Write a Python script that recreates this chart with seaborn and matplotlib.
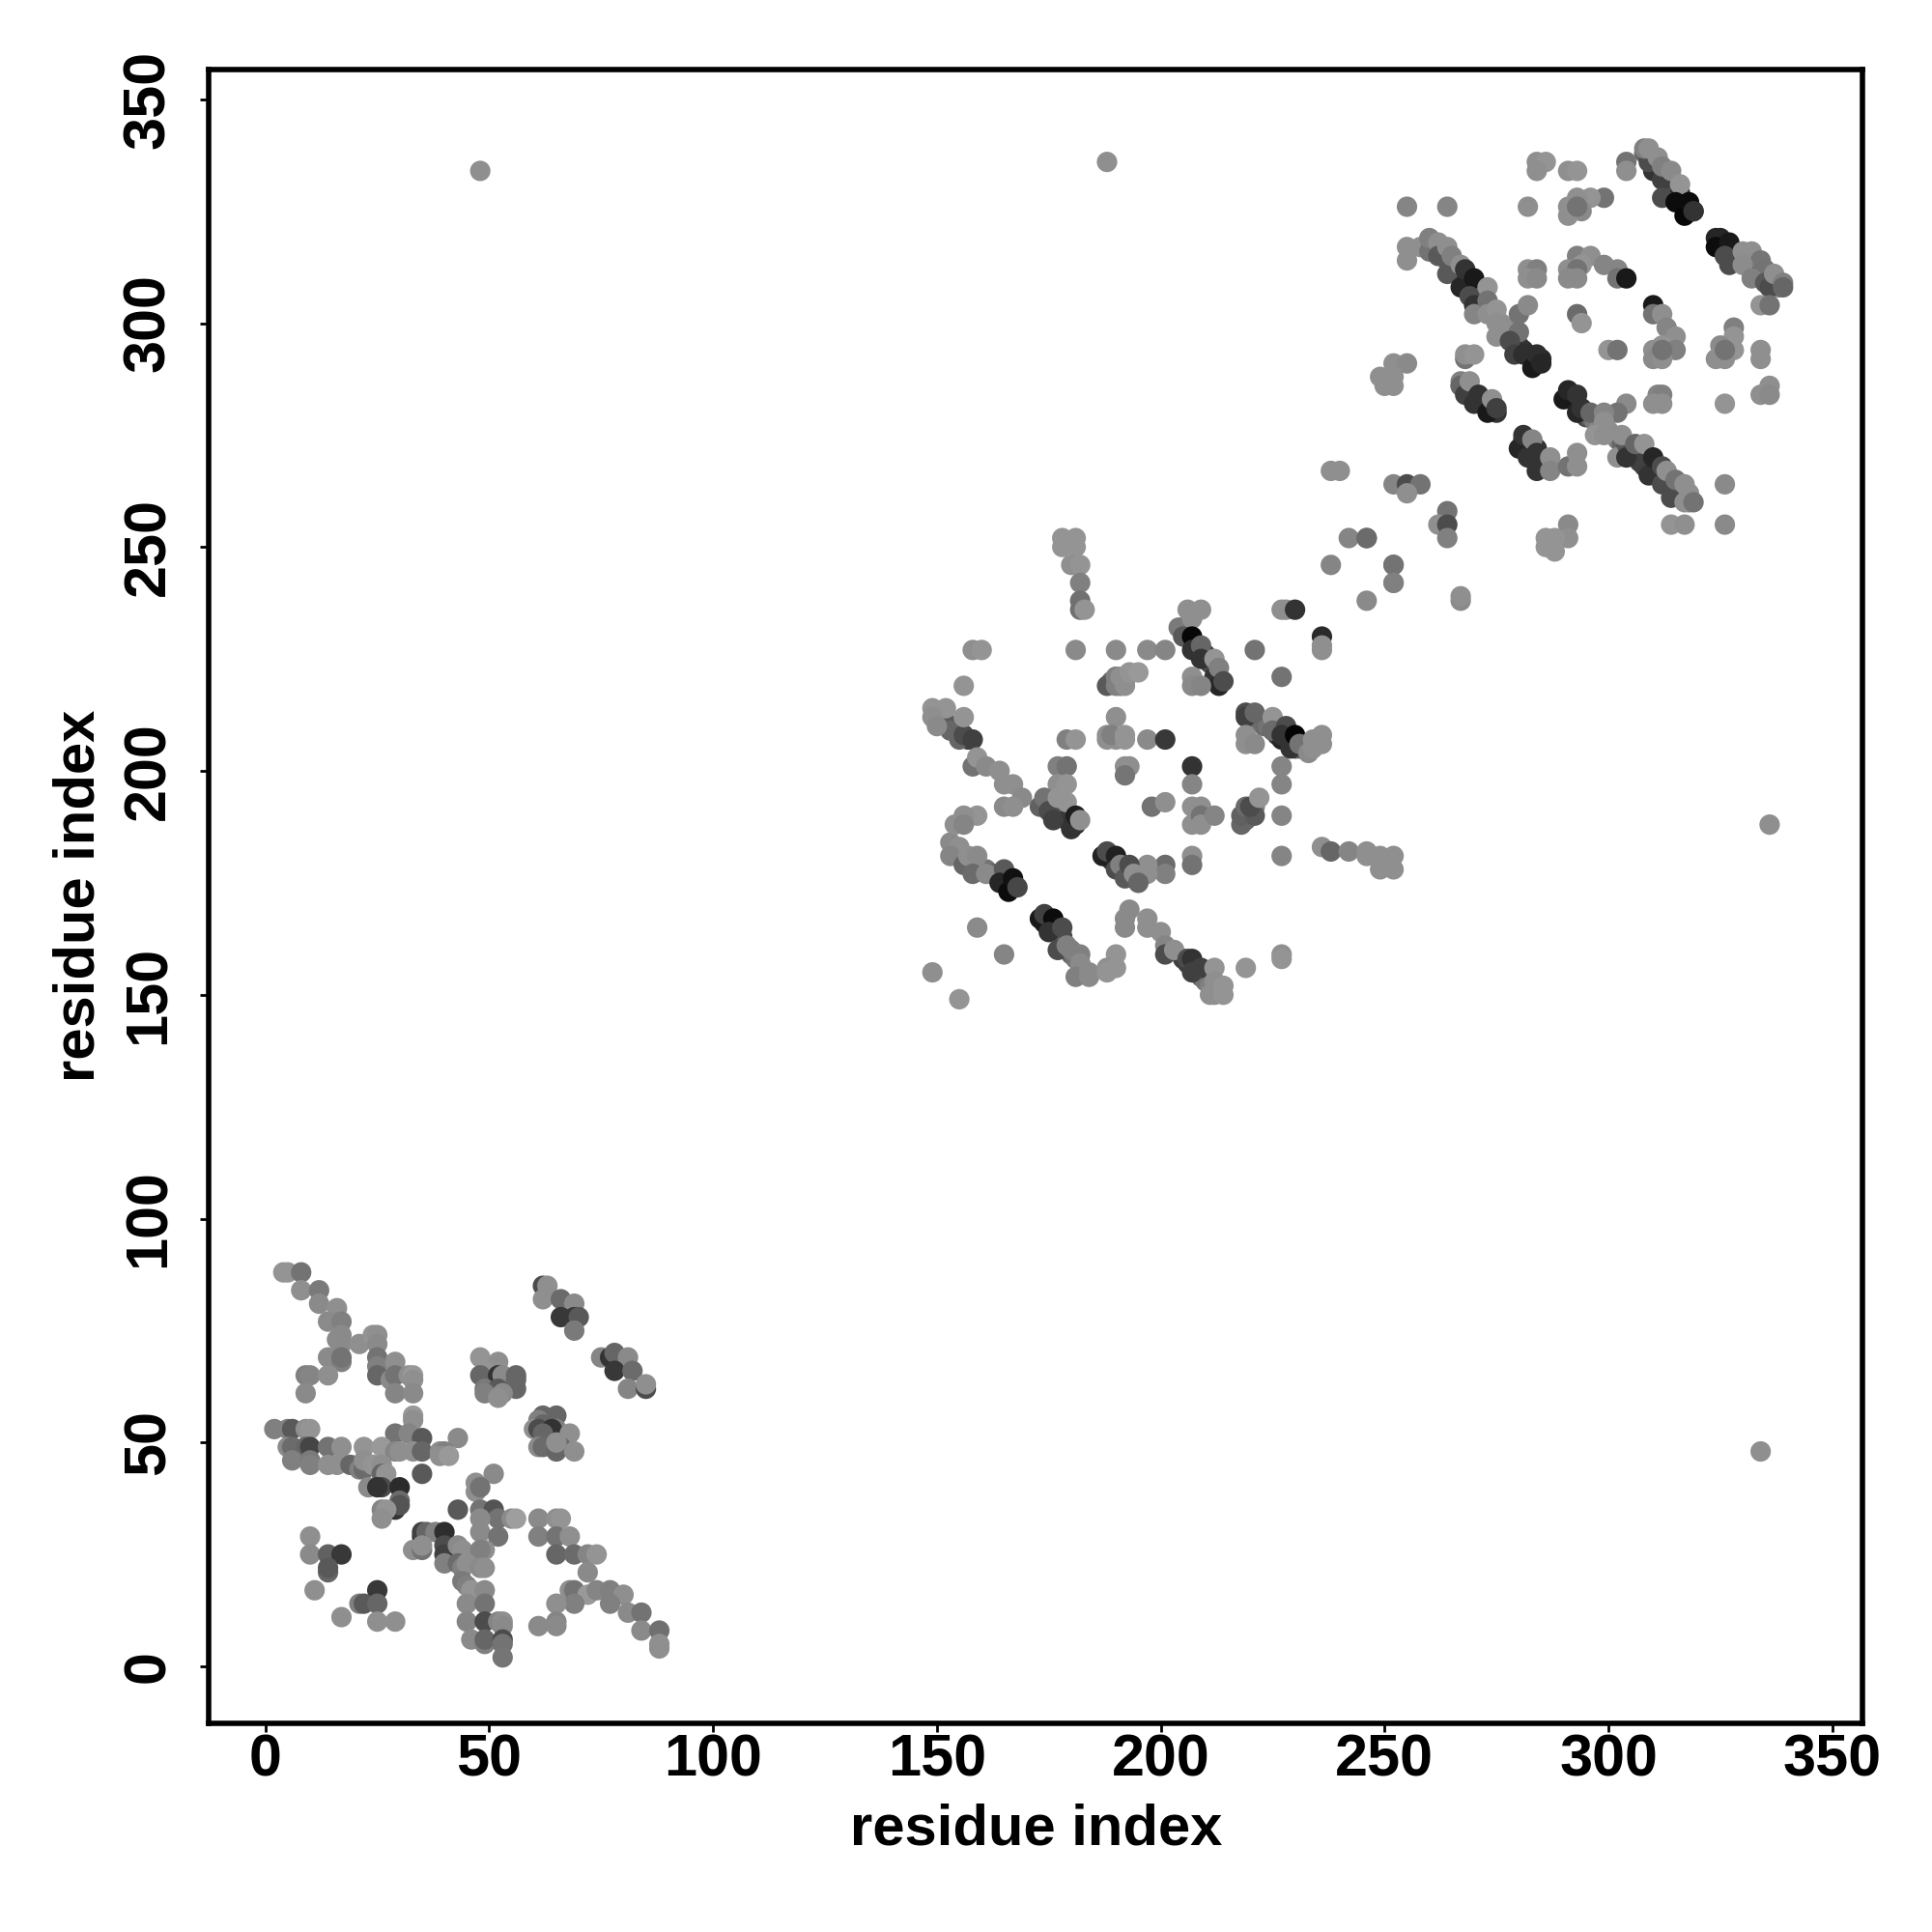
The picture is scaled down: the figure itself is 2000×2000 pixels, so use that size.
import matplotlib
matplotlib.use("Agg")
import matplotlib.pyplot as plt
import pandas as pd
import seaborn as sns

# contact points: (residue x, residue y, grey level)
outliers = [(48, 334, .56), (334, 48, .56), (188, 336, .56), (336, 188, .56)]

# dense anti-diagonal bands, drawn first so the single contacts sit on top
bands_b = [
    (150, 213, .5), (151, 212, .45), (152, 211, .4), (153, 210, .35), (154, 209, .3), (155, 209, .3), (156, 208, .28), (157, 207, .25),
    (174, 193, .4), (175, 192, .35), (176, 191, .3), (177, 191, .35), (178, 190, .3), (179, 189, .22), (180, 188, .2), (181, 188, .2),
    (188, 181, .2), (189, 180, .2), (190, 180, .3), (191, 179, .3), (192, 178, .35), (193, 177, .4), (194, 176, .42), (195, 176, .45),
    (154, 183, .48), (155, 182, .48), (156, 181, .45), (157, 180, .42), (158, 180, .45), (159, 179, .42), (160, 178, .45), (161, 178, .45),
    (162, 177, .42), (163, 177, .4), (164, 176, .25), (165, 175, .2), (166, 175, .12), (167, 174, .1),
    (174, 166, .1), (175, 165, .15), (176, 165, .2), (177, 164, .25), (178, 163, .3), (178, 161, .35), (179, 160, .38), (180, 159, .4),
    (181, 158, .45), (182, 157, .48), (183, 155, .5),
    (205, 158, .25), (206, 157, .25), (207, 156, .2), (208, 155, .25), (209, 154, .4), (210, 153, .45), (211, 152, .5), (212, 151, .54), (213, 151, .54),
    (205, 232, .35), (206, 231, .3), (207, 229, .15), (208, 228, .15), (209, 227, .2), (210, 226, .22), (211, 224, .3), (212, 223, .3), (213, 221, .25),
    (220, 212, .4), (221, 212, .42), (222, 211, .45), (223, 210, .42), (224, 210, .45), (225, 209, .35), (226, 208, .25), (227, 207, .15), (228, 207, .15),
    (229, 206, .2), (230, 205, .25), (231, 205, .35),
    (219, 190, .35), (220, 191, .4), (219, 189, .4), (220, 190, .45), (221, 192, .5),
    (189, 220, .42), (190, 221, .45), (191, 220, .48), (192, 221, .52), (191, 219, .5), (192, 220, .52),
]

bands_c = [
    (308, 338, .4), (309, 337, .35), (310, 336, .3), (311, 335, .3), (312, 334, .28), (313, 333, .3), (314, 332, .3), (315, 330, .3),
    (316, 329, .2), (317, 327, .1), (318, 326, .1), (319, 325, .12),
    (325, 318, .12), (326, 317, .15), (327, 316, .2), (328, 315, .3), (329, 314, .35), (330, 314, .4), (331, 313, .35), (332, 312, .3),
    (333, 312, .35), (334, 311, .35), (335, 310, .35), (336, 310, .4), (337, 309, .45), (338, 308, .5),
    (260, 318, .5), (261, 317, .48), (262, 316, .42), (263, 315, .4), (264, 314, .38), (265, 314, .4), (266, 313, .35), (267, 312, .3), (268, 310, .2),
    (269, 309, .2), (270, 308, .2), (271, 307, .3), (272, 306, .35), (273, 304, .45), (274, 302, .52), (275, 301, .55), (276, 300, .56), (277, 299, .56),
    (278, 297, .45), (279, 296, .35), (280, 295, .25), (281, 294, .2), (282, 293, .18), (283, 292, .15), (284, 291, .15), (285, 292, .15),
    (291, 284, .15), (292, 283, .15), (293, 282, .15), (294, 280, .2), (295, 279, .3), (296, 279, .4), (297, 278, .48), (298, 277, .52), (299, 276, .56),
    (300, 276, .56), (301, 275, .55), (302, 274, .5), (303, 273, .4), (304, 272, .35), (305, 271, .3), (306, 270, .25), (307, 269, .25), (308, 270, .25),
    (309, 268, .22), (310, 267, .25), (311, 266, .28), (312, 265, .3), (313, 264, .35), (314, 263, .4), (315, 262, .45), (316, 262, .5), (317, 261, .52), (318, 260, .54),
    (267, 286, .4), (268, 285, .35), (269, 285, .3), (270, 284, .25), (271, 283, .2), (272, 282, .15), (273, 282, .15), (274, 281, .15), (275, 280, .2),
    (281, 274, .2), (282, 273, .25), (283, 272, .25), (284, 272, .2), (285, 270, .3), (286, 269, .4), (287, 268, .45),
]

# first domain, lower left
domain_a = [
    (4, 88, .58), (5, 88, .58), (8, 88, .45), (8, 84, .56), (12, 84, .48), (12, 81, .54), (16, 80, .56),
    (14, 77, .54), (17, 77, .5), (17, 74, .54), (16, 73, .54), (17, 72, .54), (21, 72, .56), (24, 74, .58),
    (25, 74, .56), (25, 72, .54), (14, 69, .54), (17, 68, .5), (17, 69, .45), (25, 69, .45), (25, 67, .5),
    (25, 65, .4), (28, 64, .54), (29, 68, .56), (29, 65, .45), (32, 65, .56), (33, 65, .6), (33, 64, .56),
    (29, 61, .52), (33, 61, .54), (9, 65, .5), (10, 65, .52), (14, 65, .56), (9, 61, .54),
    (5, 53, .5), (2, 53, .5), (6, 53, .35), (9, 53, .56), (10, 53, .58), (33, 56, .6), (33, 55, .56),
    (29, 52, .45), (32, 52, .52), (35, 51, .35), (43, 51, .54),
    (5, 49, .54), (6, 49, .42), (9, 49, .4), (10, 49, .27), (14, 49, .45), (17, 49, .56), (22, 49, .58),
    (26, 49, .6), (29, 48, .52), (30, 48, .56), (33, 48, .56), (35, 48, .4), (39, 48, .56), (40, 48, .5),
    (39, 47, .56), (41, 47, .6), (6, 46, .5), (10, 46, .48), (10, 45, .5), (14, 45, .56), (16, 45, .56),
    (19, 45, .4), (21, 44, .5), (22, 44, .42), (22, 46, .56), (24, 45, .58), (26, 45, .56), (26, 43, .4),
    (27, 43, .58), (23, 40, .54), (26, 40, .3), (25, 40, .2), (30, 40, .17), (35, 43, .35),
    (51, 43, .54), (47, 41, .56), (47, 39, .56), (48, 40, .45), (43, 35, .35), (48, 35, .45), (51, 35, .33),
    (52, 33, .45), (48, 33, .54), (55, 33, .54), (56, 33, .62), (48, 30, .54), (52, 29, .45),
    (30, 37, .42), (29, 35, .2), (30, 36, .33), (26, 35, .52), (27, 35, .58), (26, 33, .56),
    (61, 33, .54), (65, 33, .56), (66, 33, .58), (61, 29, .5), (65, 29, .45), (68, 29, .56), (65, 25, .4),
    (69, 25, .42), (72, 25, .52), (74, 25, .58), (72, 21, .54), (68, 17, .56), (69, 17, .45), (72, 16, .6),
    (74, 17, .52), (77, 17, .5), (80, 16, .56), (77, 14, .5), (69, 14, .5), (65, 14, .56), (65, 10, .52),
    (65, 9, .54), (61, 9, .54), (81, 12, .54), (84, 12, .45), (84, 8, .54), (88, 8, .44), (88, 5, .56), (88, 4, .56),
    (10, 29, .56), (10, 25, .54), (14, 25, .38), (17, 25, .22), (14, 21, .4), (14, 22, .35), (11, 17, .56),
    (25, 17, .22), (21, 14, .5), (22, 14, .35), (25, 14, .4), (17, 11, .56), (25, 10, .56), (29, 10, .56),
    (35, 29, .2), (35, 30, .25), (36, 30, .4), (38, 30, .5), (40, 30, .18), (33, 26, .56), (35, 26, .45),
    (35, 27, .56), (40, 27, .3), (40, 25, .25), (40, 23, .5), (43, 27, .54), (44, 26, .56), (49, 26, .56),
    (48, 26, .5), (43, 23, .42), (44, 22, .5), (45, 23, .56), (48, 22, .54), (49, 22, .56), (44, 19, .48),
    (45, 18, .5), (46, 17, .58), (49, 17, .54), (45, 14, .54), (49, 14, .45), (45, 10, .52), (49, 10, .3),
    (52, 10, .52), (53, 10, .56), (53, 9, .54), (46, 6, .54), (49, 5, .5), (49, 6, .4), (53, 6, .3), (53, 5, .45), (53, 2, .46),
    (48, 69, .58), (52, 68, .56), (49, 66, .58), (48, 65, .4), (52, 65, .2), (53, 65, .54), (56, 65, .4),
    (56, 64, .4), (49, 62, .48), (52, 62, .35), (56, 62, .4), (49, 61, .5), (53, 61, .54), (52, 60, .56),
    (62, 85, .3), (63, 85, .56), (62, 82, .56), (66, 82, .42), (69, 81, .54), (66, 78, .22), (69, 78, .22),
    (70, 78, .35), (69, 75, .48), (75, 69, .52), (77, 69, .2), (78, 70, .4), (81, 69, .54), (78, 66, .22),
    (82, 66, .42), (81, 62, .52), (85, 62, .3), (85, 63, .56),
    (62, 56, .4), (65, 56, .4), (61, 55, .5), (62, 54, .4), (60, 53, .56), (61, 53, .3), (65, 53, .5),
    (64, 53, .2), (62, 52, .4), (68, 52, .56), (61, 49, .54), (62, 49, .42), (66, 49, .42), (65, 48, .4),
    (65, 50, .56), (69, 48, .56),
]

# second domain, centre
domain_b = [
    (178, 252, .58), (181, 252, .58), (178, 250, .58), (181, 250, .58), (180, 246, .56), (182, 246, .58),
    (182, 242, .5), (182, 238, .44), (182, 236, .44), (183, 236, .58), (158, 227, .56), (160, 227, .58),
    (181, 227, .54), (190, 227, .54), (197, 227, .54), (201, 227, .52), (221, 227, .45),
    (227, 236, .56), (228, 236, .56), (230, 236, .2), (236, 230, .17), (236, 228, .56), (236, 227, .56),
    (242, 252, .52), (246, 252, .45), (238, 246, .52), (252, 246, .45), (252, 242, .52), (246, 238, .54),
    (227, 221, .45), (156, 219, .58),
    (155, 207, .4), (153, 209, .4), (156, 208, .3), (158, 207, .25), (149, 214, .58), (152, 214, .58), (149, 212, .56),
    (150, 210, .54), (156, 212, .58), (158, 201, .45), (159, 203, .58), (161, 201, .54), (164, 200, .56),
    (165, 197, .56), (167, 197, .56), (169, 194, .54), (165, 192, .54), (167, 192, .56),
    (188, 219, .35), (190, 220, .4), (190, 221, .5), (190, 219, .5), (191, 221, .56), (192, 219, .56), (193, 222, .58),
    (195, 222, .6), (190, 212, .56), (188, 208, .56), (188, 207, .56), (190, 207, .56), (189, 208, .5), (192, 208, .58),
    (192, 207, .58), (197, 207, .54), (201, 207, .22), (179, 207, .5), (181, 207, .58),
    (177, 201, .5), (179, 201, .45), (177, 197, .56), (179, 197, .58), (192, 201, .56), (193, 201, .56), (192, 199, .46),
    (173, 192, .38), (174, 194, .45), (175, 191, .3), (176, 189, .25), (177, 194, .58), (179, 193, .58),
    (180, 187, .2), (181, 190, .12), (182, 189, .56),
    (207, 201, .2), (207, 197, .52), (198, 192, .45), (201, 193, .56), (207, 192, .56), (209, 192, .56), (207, 188, .56),
    (209, 190, .45), (209, 188, .56), (212, 190, .52), (218, 188, .4), (218, 190, .38), (219, 192, .42), (221, 190, .35),
    (220, 192, .3), (222, 194, .58), (227, 201, .52), (227, 197, .52), (227, 190, .52), (227, 181, .52),
    (236, 183, .56), (238, 182, .4), (242, 182, .52), (246, 182, .56), (246, 181, .56), (249, 181, .56), (252, 181, .56),
    (249, 178, .56), (252, 178, .56), (207, 181, .56), (207, 179, .45), (201, 179, .42), (201, 177, .5), (197, 179, .56),
    (197, 177, .56),
    (187, 181, .13), (188, 182, .3), (190, 181, .13), (190, 178, .3), (191, 179, .5), (192, 176, .35), (193, 179, .3),
    (194, 177, .56), (195, 175, .4), (153, 184, .54), (155, 183, .56), (153, 181, .52), (156, 179, .4), (157, 181, .56),
    (159, 181, .54), (158, 177, .42), (161, 177, .54), (165, 178, .35), (164, 175, .15), (166, 173, .05), (167, 176, .07), (168, 174, .28),
    (159, 190, .58), (156, 190, .56), (154, 188, .56), (156, 188, .52), (159, 165, .54), (165, 159, .52),
    (149, 155, .56), (155, 149, .58),
    (173, 167, .1), (174, 168, .25), (176, 167, .05), (175, 164, .2), (178, 165, .3), (177, 160, .3), (179, 161, .5), (180, 160, .5),
    (182, 159, .5), (182, 157, .54), (181, 154, .5), (184, 155, .54), (184, 154, .54), (190, 159, .58), (188, 156, .56),
    (190, 156, .58), (188, 155, .58),
    (193, 169, .54), (192, 167, .54), (192, 165, .54), (197, 167, .56), (197, 165, .56), (200, 164, .56), (201, 161, .52),
    (201, 159, .3), (203, 160, .56), (206, 158, .3), (207, 158, .2), (207, 155, .25), (209, 156, .25), (212, 156, .58),
    (212, 153, .56), (211, 150, .56), (212, 150, .56), (214, 152, .58), (214, 150, .58), (219, 156, .58), (227, 159, .56), (227, 158, .58),
    (204, 232, .48), (206, 236, .56), (209, 236, .56), (207, 234, .56), (205, 230, .35), (207, 230, .03), (207, 227, .2), (209, 228, .4),
    (209, 225, .2), (212, 225, .58), (212, 221, .2), (213, 223, .5), (213, 219, .15), (214, 220, .3), (207, 221, .56),
    (207, 219, .54), (209, 219, .52), (219, 213, .3), (219, 212, .25), (221, 213, .4), (219, 208, .56), (219, 206, .56),
    (221, 206, .54), (225, 212, .58), (225, 209, .42), (228, 210, .3), (227, 208, .2), (229, 205, .2), (230, 208, .02),
    (231, 206, .45), (233, 204, .54), (234, 207, .56), (236, 208, .56), (234, 205, .56), (236, 206, .56),
]

# third domain, upper right
domain_c = [
    (255, 326, .52), (264, 326, .52), (282, 326, .56), (284, 336, .56), (286, 336, .58), (284, 334, .56), (291, 334, .56), (293, 334, .58),
    (304, 336, .45), (304, 334, .56), (310, 334, .2), (309, 336, .3), (312, 332, .25), (312, 328, .3), (308, 339, .5), (309, 339, .56),
    (311, 337, .56), (312, 335, .5), (314, 334, .54), (316, 331, .58), (315, 327, .05), (317, 324, .03), (318, 327, .05), (319, 325, .2),
    (299, 328, .45), (296, 328, .58), (293, 328, .56), (291, 326, .56), (294, 325, .54), (291, 324, .56), (293, 326, .45),
    (324, 319, .15), (325, 319, .15), (324, 317, .05), (327, 318, .1), (326, 315, .3), (327, 313, .3), (330, 316, .56), (332, 316, .56), (334, 314, .46),
    (330, 313, .55), (335, 312, .45), (332, 310, .5), (335, 309, .35), (336, 308, .3), (337, 311, .56), (339, 309, .5), (339, 308, .4),
    (334, 304, .58), (336, 304, .45),
    (255, 317, .56), (255, 314, .56), (258, 317, .56), (260, 316, .45), (260, 319, .5), (262, 318, .56), (262, 315, .35), (264, 317, .56),
    (264, 311, .35), (265, 315, .5), (267, 313, .56), (267, 308, .15), (268, 312, .2), (270, 310, .1), (269, 306, .3), (270, 304, .2), (270, 302, .52),
    (273, 308, .58), (273, 305, .45), (273, 302, .56), (275, 303, .58), (275, 300, .56), (275, 297, .56), (278, 298, .56), (280, 302, .45),
    (282, 304, .54), (280, 298, .45), (278, 296, .3), (279, 293, .25), (281, 293, .18), (283, 290, .1), (284, 293, .18), (285, 291, .15),
    (282, 312, .56), (284, 312, .5), (282, 310, .56), (284, 310, .54), (293, 315, .5), (296, 315, .56), (291, 312, .56), (294, 313, .58), (293, 312, .45),
    (291, 310, .54), (293, 310, .54), (299, 313, .52), (302, 312, .52), (302, 310, .45), (304, 310, .1),
    (310, 304, .1), (310, 302, .45), (312, 302, .56), (313, 299, .52), (315, 297, .56), (312, 295, .58), (315, 294, .5), (310, 294, .56),
    (310, 292, .54), (312, 292, .56), (312, 294, .45), (293, 302, .42), (294, 300, .58), (300, 294, .58), (302, 294, .45),
    (328, 299, .5), (328, 297, .58), (325, 295, .54), (328, 294, .58), (325, 293, .56), (324, 292, .56), (326, 292, .56), (326, 294, .45),
    (334, 294, .56), (334, 292, .56), (336, 286, .56), (334, 284, .56), (336, 284, .54), (326, 282, .58),
    (311, 284, .52), (312, 284, .5), (310, 282, .56), (312, 282, .56), (304, 282, .54), (302, 280, .45),
    (268, 292, .45), (268, 293, .56), (270, 293, .58), (252, 291, .56), (255, 291, .54), (249, 288, .56), (252, 288, .56), (250, 286, .56), (252, 286, .56),
    (267, 287, .5), (267, 286, .4), (268, 284, .25), (269, 287, .56), (270, 282, .2), (271, 284, .2), (273, 280, .1), (274, 283, .56), (275, 281, .25),
    (290, 283, .1), (291, 285, .15), (293, 284, .2), (293, 280, .15), (294, 281, .2), (296, 280, .4), (299, 280, .52), (299, 278, .56), (297, 275, .58),
    (299, 275, .56), (302, 270, .56), (304, 273, .35), (304, 270, .2), (303, 275, .56), (306, 273, .4), (308, 273, .58), (308, 268, .25),
    (309, 266, .2), (310, 270, .15), (312, 268, .3), (312, 264, .3), (313, 267, .56), (314, 261, .3), (315, 265, .45), (317, 264, .56),
    (317, 260, .56), (318, 262, .56), (319, 260, .45), (314, 255, .58), (317, 255, .56), (326, 264, .54), (326, 255, .54),
    (280, 272, .15), (281, 275, .2), (282, 270, .2), (283, 274, .52), (284, 271, .2), (284, 267, .2), (287, 270, .56), (287, 267, .52),
    (291, 268, .45), (293, 271, .56), (293, 268, .56),
    (252, 264, .52), (255, 264, .3), (258, 264, .45), (255, 262, .56), (264, 258, .45), (262, 255, .56), (264, 255, .3), (264, 252, .5),
    (246, 252, .42), (252, 246, .45), (252, 242, .5), (238, 267, .56), (240, 267, .56), (267, 238, .54), (267, 239, .56),
    (291, 255, .54), (291, 252, .56), (286, 252, .58), (288, 252, .58), (286, 250, .58), (288, 249, .58),
]

tick_values = [0, 50, 100, 150, 200, 250, 300, 350]
axis_label = "residue index"

contacts = pd.DataFrame(outliers + bands_b + bands_c + domain_a + domain_b + domain_c, columns=["x", "y", "grey"])

sns.set_theme(style="white", rc={"axes.linewidth": 2})
plt.rcParams["font.family"] = ["Liberation Sans", "DejaVu Sans"]
plt.rcParams["font.weight"] = "bold"

fig = plt.figure(figsize=(10, 10), dpi=200)
ax = fig.add_axes([0.10815, 0.10815, 0.856, 0.856])

sns.scatterplot(data=contacts, x="x", y="y", hue="grey", palette="gray", hue_norm=(0, 1),
                s=58, linewidth=0, legend=False, ax=ax)

ax.set_xlim(-12.6, 356.8)
ax.set_ylim(-12.66, 356.7)
ax.set_xticks(tick_values)
ax.set_yticks(tick_values)
ax.tick_params(axis="both", which="major", bottom=True, left=True, length=3.2, width=1, color="black",
               labelsize=22, labelcolor="black")
ax.tick_params(axis="x", pad=0.8)
ax.tick_params(axis="y", pad=8.6)
plt.setp(ax.get_yticklabels(), rotation=90, va="center")
for spine in ax.spines.values():
    spine.set_color("black")
    spine.set_linewidth(2)

ax.set_xlabel(axis_label, fontsize=21.5, fontweight="bold", color="black", va="center")
ax.set_ylabel(axis_label, fontsize=21.5, fontweight="bold", color="black", va="center")
ax.xaxis.set_label_coords(0.5, -0.0642)
ax.yaxis.set_label_coords(-0.0787, 0.5)

fig.savefig("out.png", dpi=200, facecolor="white")
